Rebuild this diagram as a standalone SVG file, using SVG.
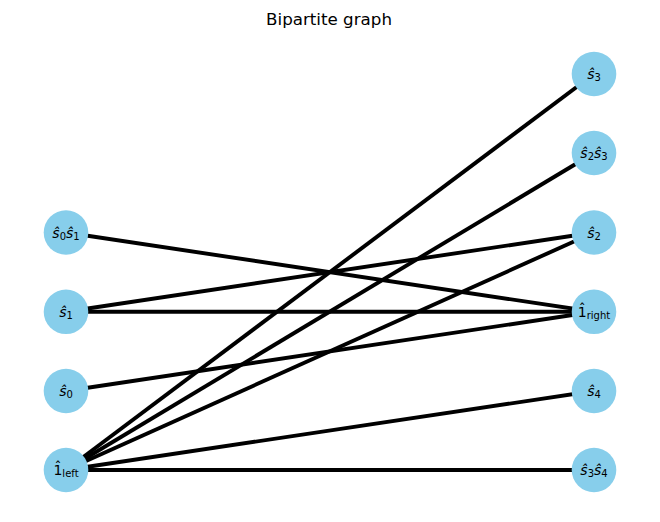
<svg xmlns="http://www.w3.org/2000/svg" width="660" height="522" viewBox="0 0 660 522">
<style>
.node{fill:#87CEEB}
.lbl{font-family:"DejaVu Sans",sans-serif;font-size:14px;fill:#000;text-anchor:middle}
.it{font-style:italic}
.sub{font-size:10px}
.edge{stroke:#000;stroke-width:3.9;fill:none;stroke-linecap:butt}
.title{font-family:"DejaVu Sans",sans-serif;font-size:16.7px;fill:#000;text-anchor:middle}
</style>
<rect width="660" height="522" fill="#fff"/>
<text class="title" x="329" y="25">Bipartite graph</text>
<g id="edges">
<line class="edge" x1="66" y1="232.5" x2="594" y2="311.8"/>
<line class="edge" x1="66" y1="311.8" x2="594" y2="232.5"/>
<line class="edge" x1="66" y1="311.8" x2="594" y2="311.8"/>
<line class="edge" x1="66" y1="391" x2="594" y2="311.8"/>
<line class="edge" x1="66" y1="470" x2="594" y2="74"/>
<line class="edge" x1="66" y1="470" x2="594" y2="153"/>
<line class="edge" x1="66" y1="470" x2="594" y2="232.5"/>
<line class="edge" x1="66" y1="470" x2="594" y2="391"/>
<line class="edge" x1="66" y1="470" x2="594" y2="470"/>
</g>
<g id="n_s0s1"><circle class="node" cx="66" cy="232.5" r="22.3"/><text class="lbl" x="66" y="237.5"><tspan class="it">ŝ</tspan><tspan class="sub" dy="2">0</tspan><tspan class="it" dy="-2">ŝ</tspan><tspan class="sub" dy="2">1</tspan></text></g>
<g id="n_s1"><circle class="node" cx="66" cy="311.8" r="22.3"/><text class="lbl" x="66" y="316.8"><tspan class="it">ŝ</tspan><tspan class="sub" dy="2">1</tspan></text></g>
<g id="n_s0"><circle class="node" cx="66" cy="391" r="22.3"/><text class="lbl" x="66" y="396"><tspan class="it">ŝ</tspan><tspan class="sub" dy="2">0</tspan></text></g>
<g id="n_1left"><circle class="node" cx="66" cy="470" r="22.3"/><text class="lbl" x="66" y="475"><tspan>1̂</tspan><tspan class="sub" dy="2">left</tspan></text></g>
<g id="n_s3"><circle class="node" cx="594" cy="74" r="22.3"/><text class="lbl" x="594" y="79"><tspan class="it">ŝ</tspan><tspan class="sub" dy="2">3</tspan></text></g>
<g id="n_s2s3"><circle class="node" cx="594" cy="153" r="22.3"/><text class="lbl" x="594" y="158"><tspan class="it">ŝ</tspan><tspan class="sub" dy="2">2</tspan><tspan class="it" dy="-2">ŝ</tspan><tspan class="sub" dy="2">3</tspan></text></g>
<g id="n_s2"><circle class="node" cx="594" cy="232.5" r="22.3"/><text class="lbl" x="594" y="237.5"><tspan class="it">ŝ</tspan><tspan class="sub" dy="2">2</tspan></text></g>
<g id="n_1right"><circle class="node" cx="594" cy="311.8" r="22.3"/><text class="lbl" x="594" y="316.8"><tspan>1̂</tspan><tspan class="sub" dy="2">right</tspan></text></g>
<g id="n_s4"><circle class="node" cx="594" cy="391" r="22.3"/><text class="lbl" x="594" y="396"><tspan class="it">ŝ</tspan><tspan class="sub" dy="2">4</tspan></text></g>
<g id="n_s3s4"><circle class="node" cx="594" cy="470" r="22.3"/><text class="lbl" x="594" y="475"><tspan class="it">ŝ</tspan><tspan class="sub" dy="2">3</tspan><tspan class="it" dy="-2">ŝ</tspan><tspan class="sub" dy="2">4</tspan></text></g>
</svg>
